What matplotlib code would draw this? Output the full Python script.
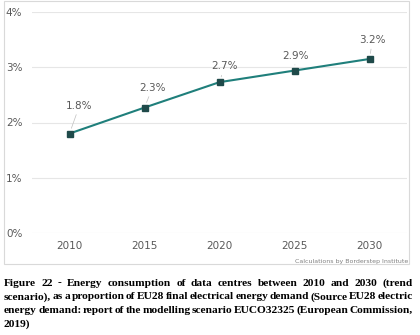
import matplotlib.pyplot as plt
from matplotlib.patches import Rectangle

# Datos
anios = ["2010", "2015", "2020", "2025", "2030"]
valores = [0.0180, 0.0227, 0.0273, 0.0294, 0.0315]
etiquetas = ["1.8%", "2.3%", "2.7%", "2.9%", "3.2%"]
ticks_y = [0.0, 0.01, 0.02, 0.03, 0.04]
ticks_y_txt = ["0%", "1%", "2%", "3%", "4%"]
# desplazamiento de las etiquetas (px)
desp = [(10, 23), (8, 15), (5, 11), (1, 10), (3, 14)]

lineas_pie = [
    "Figure 22 - Energy consumption of data centres between 2010 and 2030 (trend",
    "scenario), as a proportion of EU28 final electrical energy demand (Source EU28 electric",
    "energy demand: report of the modelling scenario EUCO32325 (European Commission,",
    "2019)",
]

W, H = 420, 335
fig = plt.figure(figsize=(W / 100, H / 100), dpi=100)

# marco del gráfico
fig.patches.append(Rectangle((4 / W, 1 - 264 / H), 405 / W, 263 / H, transform=fig.transFigure,
                             fill=False, edgecolor="#d9d9d9", linewidth=0.8))

ax = fig.add_axes([32 / W, 1 - 233 / H, 375 / W, 221 / H])
x = list(range(len(anios)))
ax.plot(x, valores, color="#1f7f7b", linewidth=1.5, zorder=3)
ax.plot(x, valores, "s", color="#1f4a4a", markersize=5, zorder=4)

ax.set_xlim(-0.5, 4.5)
ax.set_ylim(0, 0.04)
ax.set_yticks(ticks_y)
ax.set_yticklabels(ticks_y_txt)
ax.set_xticks(x)
ax.set_xticklabels(anios)
ax.grid(axis="y", color="#e6e6e6", linewidth=0.8)
ax.set_axisbelow(True)
for s in ax.spines.values():
    s.set_visible(False)
ax.tick_params(length=0, labelsize=7.5, labelcolor="#595959")
ax.tick_params(axis="x", pad=6)
ax.tick_params(axis="y", pad=7)

for i, (v, t) in enumerate(zip(valores, etiquetas)):
    dx, dy = desp[i]
    ax.annotate(t, (i, v), xytext=(dx * 0.72, dy * 0.72), textcoords="offset points",
                ha="center", va="bottom", fontsize=7.5, color="#595959",
                arrowprops=dict(arrowstyle="-", color="#bfbfbf", lw=0.5, shrinkA=1, shrinkB=4))

fig.text(408 / W, 1 - 262 / H, "Calculations by Borderstep Institute", ha="right", va="center",
         fontsize=4.5, color="#7f7f7f")

# texto justificado del pie de figura
renderer = fig.canvas.get_renderer()
x0, x1 = 4, 413


def medir(s, tam):
    t = fig.text(0, 0, s, family="Liberation Serif", weight="bold", fontsize=tam)
    w = t.get_window_extent(renderer).width
    t.remove()
    return w


def cabe(linea, tam):
    ws = linea.split(" ")
    esp = medir("a b", tam) - medir("ab", tam)
    return sum(medir(w, tam) for w in ws) + 0.45 * esp * (len(ws) - 1) <= (x1 - x0)


# tamaño mayor con el que todas las líneas caben (espacios algo apretados)
tam = 9.5
while tam > 6 and not all(cabe(l, tam) for l in lineas_pie):
    tam -= 0.1
fuente = dict(family="Liberation Serif", weight="bold", fontsize=tam, color="black")
ancho_esp = medir("a b", tam) - medir("ab", tam)

y = 283
for k, linea in enumerate(lineas_pie):
    ws = linea.split(" ")
    medidas = [medir(w, tam) for w in ws]
    if k < len(lineas_pie) - 1 and len(ws) > 1:
        hueco = ((x1 - x0) - sum(medidas)) / (len(ws) - 1)
    else:
        hueco = ancho_esp
    xx = x0
    for w, m in zip(ws, medidas):
        fig.text(xx / W, 1 - y / H, w, ha="left", va="center", **fuente)
        xx += m + hueco
    y += 13.7

fig.savefig("out.png", dpi=100)
